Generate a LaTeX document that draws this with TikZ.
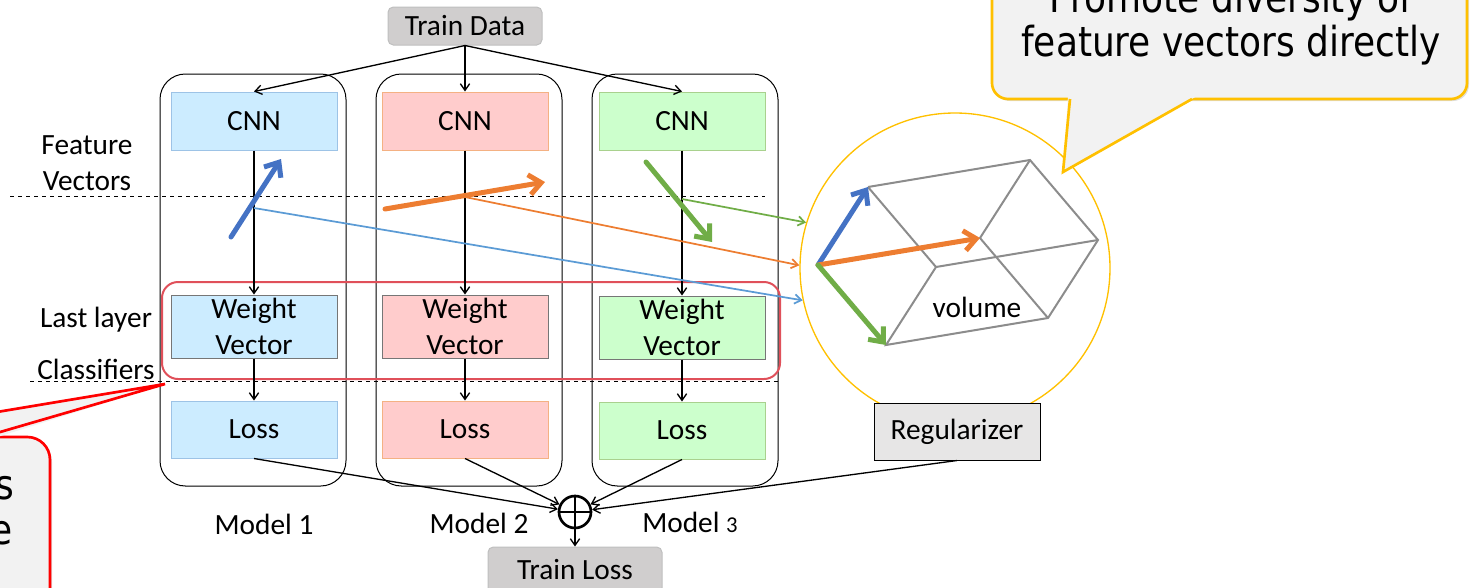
\documentclass[tikz,border=0pt]{standalone}
\usepackage{fontspec}
\setmainfont{Carlito}
\newfontfamily\callfont[FakeStretch=0.87]{DejaVu Sans}
\usetikzlibrary{arrows.meta,calc,shadows}

\definecolor{cnnblue}{RGB}{204,236,255}
\definecolor{cnnbluedraw}{RGB}{157,195,230}
\definecolor{cnnpink}{RGB}{255,204,204}
\definecolor{cnnpinkdraw}{RGB}{244,177,131}
\definecolor{cnngreen}{RGB}{204,255,204}
\definecolor{cnngreendraw}{RGB}{169,209,142}
\definecolor{wdraw}{RGB}{118,118,118}
\definecolor{vecblue}{RGB}{68,114,196}
\definecolor{vecorange}{RGB}{237,125,49}
\definecolor{vecgreen}{RGB}{112,173,71}
\definecolor{lineblue}{RGB}{91,155,213}
\definecolor{cubegray}{RGB}{140,140,140}
\definecolor{volyellow}{RGB}{255,192,0}
\definecolor{calloutfill}{RGB}{242,242,242}
\definecolor{clsred}{RGB}{224,80,90}
\definecolor{datagray}{RGB}{208,206,206}
\definecolor{datagraydraw}{RGB}{191,191,191}
\definecolor{reggray}{RGB}{231,230,230}

\tikzset{every picture/.style={line width=0.75pt}}

\begin{document}
\begin{tikzpicture}[x=0.75pt,y=0.75pt,yscale=-1,xscale=1,
		txt/.style={font=\fontsize{22}{27}\selectfont, inner sep=0.75pt},
		blk/.style={draw, minimum width=124.5pt, inner sep=0pt, align=center, font=\fontsize{22}{27}\selectfont},
		cnnblk/.style={blk, minimum height=43.5pt},
		wblk/.style={blk, draw=wdraw, minimum height=47.25pt},
		lossblk/.style={blk, minimum height=42.75pt},
		modelbox/.style={draw, rounded corners=19pt, minimum width=139.5pt, minimum height=309pt, inner sep=0pt},
		graybox/.style={fill=datagray, draw=datagraydraw, rounded corners=4pt, minimum width=115.5pt, minimum height=28.5pt, font=\fontsize{22}{27}\selectfont},
		flow/.style={-{Straight Barb[length=5pt,width=7pt]}, line width=1pt},
		fvec/.style={-{Straight Barb[length=9pt,width=15pt]}, line width=3.75pt, line cap=round},
		fline/.style={-{Straight Barb[length=5pt,width=7pt]}, line width=1.3pt},
		cubeedge/.style={draw=cubegray, line width=1.5pt},
		callout/.style={fill=calloutfill, line width=2pt, drop shadow={shadow xshift=1.5pt, shadow yshift=-1.5pt, opacity=0.25}},
		calltxt/.style={font=\callfont\fontsize{31}{36}\selectfont, inner sep=0pt},
	]
	\useasboundingbox (0,0) rectangle (1472,587);
	\clip (0,0) rectangle (1472,587);
	
	% model frames
	\node[modelbox] (model1) at (253,280) {};
	\node[modelbox] (model2) at (469,280) {};
	\node[modelbox] (model3) at (685,280) {};
	
	\draw [dashed] (10,196) -- (765,196);
	\draw [dashed] (30,381) -- (780,381);
	\draw [draw=clsred, line width=1.5pt, rounded corners=12pt] (162,282) rectangle (780,379);
	
	\node[txt, align=center] (featlbl) at (87,163) {Feature\\Vectors};
	\node[txt] (lastlbl) at (96,320) {Last layer};
	\node[txt] (clslbl) at (96,369) {Classifiers};
	
	\node[graybox] (traindata) at (465,26) {Train Data};
	
	\node[cnnblk, fill=cnnblue, draw=cnnbluedraw] (cnn1) at (254,121) {CNN};
	\node[cnnblk, fill=cnnpink, draw=cnnpinkdraw] (cnn2) at (465,121) {CNN};
	\node[cnnblk, fill=cnngreen, draw=cnngreendraw] (cnn3) at (682,121) {CNN};
	
	\node[wblk, fill=cnnblue] (w1) at (254,326.5) {Weight\\Vector};
	\node[wblk, fill=cnnpink] (w2) at (465,326.5) {Weight\\Vector};
	\node[wblk, fill=cnngreen] (w3) at (682,327.5) {Weight\\Vector};
	
	\node[lossblk, fill=cnnblue, draw=cnnbluedraw] (loss1) at (254,429.5) {Loss};
	\node[lossblk, fill=cnnpink, draw=cnnpinkdraw] (loss2) at (465,429.5) {Loss};
	\node[lossblk, fill=cnngreen, draw=cnngreendraw] (loss3) at (682,430.5) {Loss};
	
	\draw[flow] (traindata.south) -- (cnn1.north);
	\draw[flow] (traindata.south) -- (cnn2.north);
	\draw[flow] (traindata.south) -- (cnn3.north);
	\draw[flow] (cnn1) -- (w1);
	\draw[flow] (cnn2) -- (w2);
	\draw[flow] (cnn3) -- (w3);
	\draw[flow] (w1) -- (loss1);
	\draw[flow] (w2) -- (loss2);
	\draw[flow] (w3) -- (loss3);
	
	% volume of the feature vectors
	\node[draw=volyellow, circle, minimum size=232.5pt, inner sep=0pt, line width=1pt] (vol) at (955,268) {};
	\coordinate (o) at (818,265);
	\coordinate (a) at (868,187);
	\coordinate (b) at (980,238);
	\coordinate (c) at (886,345);
	\coordinate (ab) at ($(a)+(b)-(o)$);
	\coordinate (ac) at ($(a)+(c)-(o)$);
	\coordinate (bc) at ($(b)+(c)-(o)$);
	\coordinate (abc) at ($(ab)+(c)-(o)$);
	\draw[cubeedge] (a) -- (ab) -- (abc) -- (bc) -- (c) -- (ac) -- (a);
	\draw[cubeedge] (ab) -- (b) -- (bc);
	\draw[cubeedge] (ac) -- (abc);
	\draw[fvec, vecblue] (o) -- (a);
	\draw[fvec, vecorange] (o) -- (b);
	\draw[fvec, vecgreen] (o) -- (c);
	\node[txt] (volume) at (977,307) {volume};
	
	% feature vectors
	\coordinate (f1) at (254,208);
	\coordinate (f2) at (465,197);
	\coordinate (f3) at (682,199);
	\draw[fline, lineblue] (f1) -- (vol.192.7);
	\draw[fline, vecorange] (f2) -- (vol.179);
	\draw[fline, vecgreen] (f3) -- (vol.163.3);
	\draw[fvec, vecblue] (231,237) -- (281,159);
	\draw[fvec, vecorange] (385,209) -- (545,182);
	\draw[fvec, vecgreen] (646,162) -- (712,242);
	
	\node[blk, fill=reggray, minimum height=42.75pt] (reg) at (957,431.5) {Regularizer};
	
	\node[draw, circle, minimum size=24pt, inner sep=0pt, line width=2pt] (plus) at (575,512) {};
	\draw[line width=2pt] (plus.north) -- (plus.south) (plus.west) -- (plus.east);
	\draw[flow] (loss1.south) -- (plus);
	\draw[flow] (loss2.south) -- (plus);
	\draw[flow] (loss3.south) -- (plus);
	\draw[flow] (reg.south) -- (plus);
	
	\node[txt] (m1lbl) at (264,524) {Model 1};
	\node[txt] (m2lbl) at (479,523) {Model 2};
	\node[txt] (m3lbl) at (690,522) {Model {\fontsize{17}{17}\selectfont 3}};
	
	\node[graybox, minimum width=130.5pt, minimum height=34.5pt] (trainloss) at (575,570) {Train Loss};
	\draw[flow] (plus) -- (trainloss);
	
	% callouts
	\draw[callout, draw=volyellow, rounded corners=12pt] (992,-40) rectangle (1467,99);
	\fill[calloutfill] (1068,96) -- (1063,172) -- (1197,96) -- cycle;
	\draw[draw=volyellow, line width=2pt] (1070,99) -- (1063,172) -- (1192,99);
	\node[calltxt, anchor=base] (promote1) at (1231,12) {Promote diversity of};
	\node[calltxt, anchor=base] (promote2) at (1231,56) {feature vectors directly};
	
	\draw[callout, draw=red, rounded corners=17pt] (-300,437) rectangle (50,640);
	\fill[calloutfill] (-159,440) -- (165,384) -- (-12,440) -- cycle;
	\draw[draw=red, line width=2pt] (-153,437) -- (165,384) -- (-17,437);
	\node[calltxt, anchor=base east] (calls) at (15,499) {s};
	\node[calltxt, anchor=base east] (calle) at (13,544) {e};
\end{tikzpicture}
\end{document}
